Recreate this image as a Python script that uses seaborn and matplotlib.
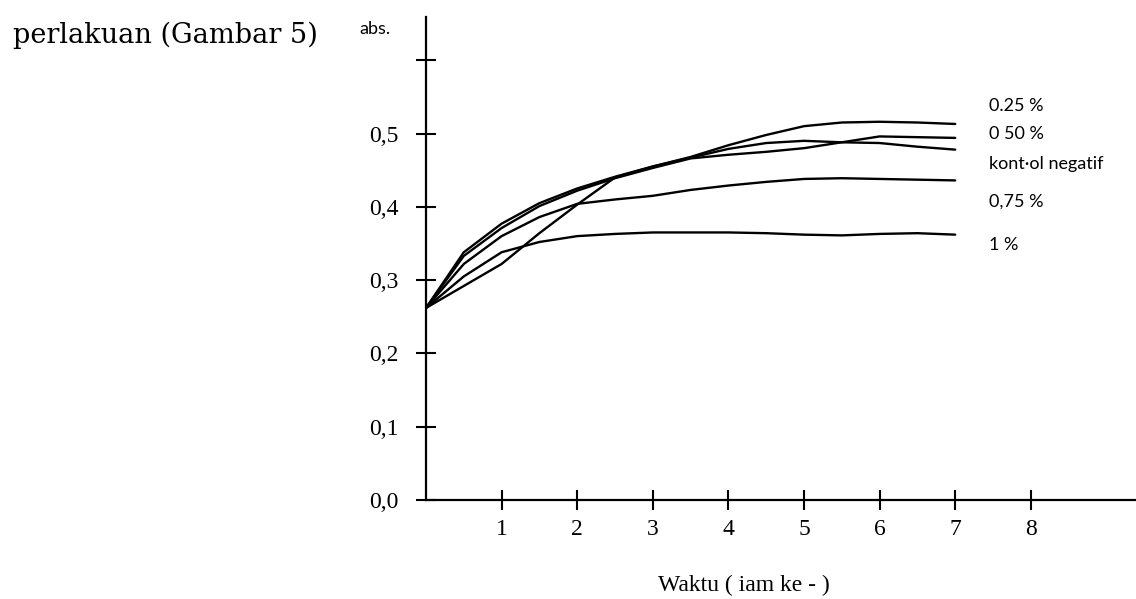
import pandas as pd
import seaborn as sns
import matplotlib.pyplot as plt

# waktu pengamatan (jam ke-)
hours = [0, 0.5, 1, 1.5, 2, 2.5, 3, 3.5, 4, 4.5, 5, 5.5, 6, 6.5, 7]

# nilai absorbansi
abs_025 = [0.262, 0.338, 0.377, 0.405, 0.425, 0.441, 0.455, 0.468, 0.484, 0.498, 0.510, 0.515, 0.516, 0.515, 0.513]
abs_050 = [0.262, 0.333, 0.371, 0.401, 0.422, 0.439, 0.453, 0.466, 0.471, 0.475, 0.480, 0.488, 0.496, 0.495, 0.494]
abs_kontrol = [0.262, 0.292, 0.322, 0.364, 0.403, 0.440, 0.455, 0.467, 0.479, 0.487, 0.490, 0.488, 0.487, 0.482, 0.478]
abs_075 = [0.262, 0.322, 0.360, 0.386, 0.404, 0.410, 0.415, 0.423, 0.429, 0.434, 0.438, 0.439, 0.438, 0.437, 0.436]
abs_1 = [0.262, 0.305, 0.338, 0.352, 0.360, 0.363, 0.365, 0.365, 0.365, 0.364, 0.362, 0.361, 0.363, 0.364, 0.362]

series_names = ["0.25 %", "0 50 %", "kont·ol negatif", "0,75 %", "1 %"]
series_values = [abs_025, abs_050, abs_kontrol, abs_075, abs_1]
label_y = [0.5375, 0.499, 0.458, 0.4066, 0.348]

x_ticks = [1, 2, 3, 4, 5, 6, 7, 8]
y_ticks = [0.0, 0.1, 0.2, 0.3, 0.4, 0.5, 0.6]
y_ticklabels = ["0,0", "0,1", "0,2", "0,3", "0,4", "0,5", ""]

rows = []
for name, vals in zip(series_names, series_values):
    for h, v in zip(hours, vals):
        rows.append({"jam": h, "abs": v, "perlakuan": name})
df = pd.DataFrame(rows)

sns.set_theme(style="white")
plt.rcParams["font.family"] = ["Liberation Serif", "DejaVu Sans"]
plt.rcParams["text.color"] = "black"
plt.rcParams["axes.labelcolor"] = "black"

fig = plt.figure(figsize=(11.36, 5.99), dpi=100)
ax = fig.add_axes([426 / 1136, 99 / 599, 710 / 1136, 483 / 599])

sns.lineplot(data=df, x="jam", y="abs", hue="perlakuan",
             palette={n: "black" for n in series_names},
             linewidth=1.7, legend=False, ax=ax)

ax.set_xlim(0, 710 / 75.6)
ax.set_ylim(0, 483 / 733)
ax.set_xticks(x_ticks)
ax.set_xticklabels([str(t) for t in x_ticks])
ax.set_yticks(y_ticks)
ax.set_yticklabels(y_ticklabels)

for s in ["top", "right"]:
    ax.spines[s].set_visible(False)
for s in ["left", "bottom"]:
    ax.spines[s].set_color("black")
    ax.spines[s].set_linewidth(1.6)

ax.tick_params(axis="both", direction="inout", length=15, width=1.5,
               bottom=True, left=True,
               color="black", labelsize=17, labelcolor="black")
ax.tick_params(axis="y", pad=12)
ax.tick_params(axis="x", pad=6)

ax.set_xlabel("Waktu ( iam ke - )", fontsize=17, color="black")
ax.xaxis.set_label_coords(0.448, -0.176)
ax.xaxis.label.set_va("center")
ax.set_ylabel("")

for name, yy in zip(series_names, label_y):
    ax.text(7.45, yy, name, fontsize=13, family=["Lato", "DejaVu Sans"],
            ha="left", va="center", color="black")

fig.text(375 / 1136, 1 - 29 / 599, "abs.", fontsize=13,
         family=["Lato", "DejaVu Sans"], ha="center", va="center")
fig.text(13 / 1136, 1 - 35 / 599, "perlakuan (Gambar 5)", fontsize=19.5,
         family=["DejaVu Serif"], ha="left", va="center")

fig.savefig("out.png", dpi=100, facecolor="white")
